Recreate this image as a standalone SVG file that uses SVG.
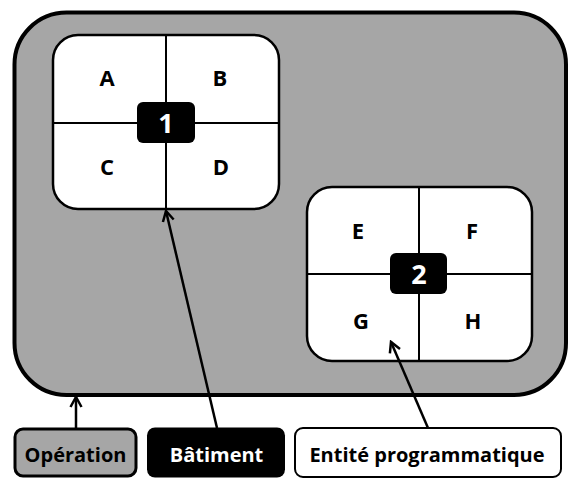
<svg xmlns="http://www.w3.org/2000/svg" width="568" height="479" viewBox="0 0 568 479">
<defs>
<style>
text{font-family:"Open Sans","Noto Sans",sans-serif;font-weight:bold;text-anchor:middle}
.cell{fill:#fff;stroke:#000;stroke-width:2.5}
.div{stroke:#000;stroke-width:2}
.lt{font-size:22px;fill:#000}
.num{font-size:27px;fill:#fff}
.conn{stroke:#000;stroke-width:2.5;fill:none;marker-end:url(#arr)}
.leg{font-size:20px}
</style>
<marker id="arr" viewBox="-12 -7 14 14" markerWidth="14" markerHeight="14" refX="0" refY="0" orient="auto" markerUnits="userSpaceOnUse">
<path d="M-10,-5.5 L0,0 L-10,5.5" fill="none" stroke="#000" stroke-width="2.5"/>
</marker>
</defs>
<g id="operation">
<rect x="14.5" y="12.5" width="551.5" height="382.5" rx="52" fill="#a6a6a6" stroke="#000" stroke-width="4"/>
</g>
<g id="batiment1">
<rect class="cell" x="53" y="35" width="226" height="174" rx="25"/>
<line class="div" x1="166" y1="35" x2="166" y2="209"/>
<line class="div" x1="53" y1="123" x2="279" y2="123"/>
<text class="lt" x="107" y="86">A</text>
<text class="lt" x="220" y="86">B</text>
<text class="lt" x="107" y="175">C</text>
<text class="lt" x="221" y="175">D</text>
<rect x="137" y="102" width="58" height="41" rx="6" fill="#000"/>
<text class="num" x="166" y="133">1</text>
</g>
<g id="batiment2">
<rect class="cell" x="307" y="187" width="225" height="174" rx="25"/>
<line class="div" x1="419" y1="187" x2="419" y2="361"/>
<line class="div" x1="307" y1="274" x2="532" y2="274"/>
<text class="lt" x="358" y="239">E</text>
<text class="lt" x="472" y="239">F</text>
<text class="lt" x="361" y="329">G</text>
<text class="lt" x="473" y="329">H</text>
<rect x="390" y="253" width="57" height="41" rx="6" fill="#000"/>
<text class="num" x="419" y="284">2</text>
</g>
<g id="legend-operation">
<rect x="15" y="429" width="121" height="47" rx="8" fill="#a6a6a6" stroke="#000" stroke-width="3"/>
<text class="leg" x="75.5" y="462" fill="#000">Opération</text>
</g>
<g id="legend-batiment">
<rect x="147" y="427.5" width="138" height="50" rx="8" fill="#000"/>
<text class="leg" x="216.5" y="462" fill="#fff">Bâtiment</text>
</g>
<g id="legend-entite">
<rect x="295" y="428" width="266" height="49" rx="8" fill="#fff" stroke="#000" stroke-width="2"/>
<text class="leg" x="427" y="462" fill="#000">Entité programmatique</text>
</g>
<g id="connectors">
<line class="conn" x1="76" y1="428" x2="76" y2="397"/>
<line class="conn" x1="217" y1="428" x2="166" y2="211"/>
<line class="conn" x1="428" y1="428" x2="391" y2="342"/>
</g>
</svg>
